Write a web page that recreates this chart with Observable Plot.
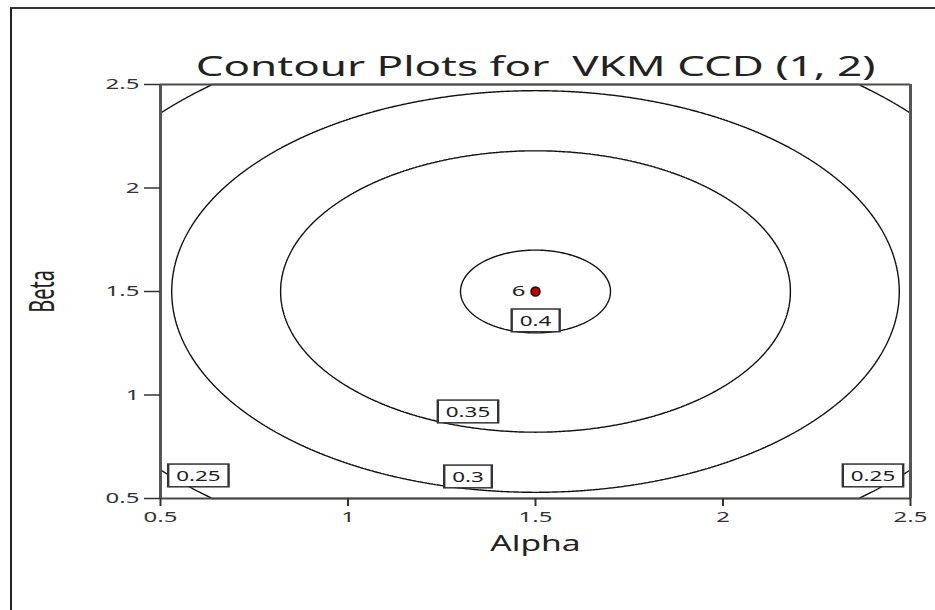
<!DOCTYPE html>
<html>
<head>
<meta charset="utf-8">
<script src="https://cdn.jsdelivr.net/npm/d3@7"></script>
<script src="https://cdn.jsdelivr.net/npm/@observablehq/plot@0.6"></script>
<style>
  html, body { margin: 0; padding: 0; background: #fff; }
  #wrap { position: relative; width: 935px; height: 610px; overflow: hidden; }
  #border { position: absolute; left: 10px; top: 7px; width: 940px; height: 620px;
            border-left: 2px solid #222; border-top: 2px solid #333; }
  #chart { position: absolute; left: 0; top: 0; }
</style>
</head>
<body>
<div id="wrap"><div id="border"></div><div id="chart"></div></div>
<script>
// ---- data ----
const title = "Contour Plots for  VKM CCD (1, 2)";
const xLabel = "Alpha";
const yLabel = "Beta";
const xTicks = [0.5, 1, 1.5, 2, 2.5];
const xTickLabels = ["0.5", "1", "1.5", "2", "2.5"];
const yTicks = [0.5, 1, 1.5, 2, 2.5];
const yTickLabels = ["0.5", "1", "1.5", "2", "2.5"];
const centerX = 1.5;
const centerY = 1.5;
// contour levels and their (read) radii around the centre, in data units
const contourLevels = [0.4, 0.35, 0.3, 0.25];
const contourRadii  = [0.2, 0.68, 0.97, 1.32];
// boxed contour labels
const labelText = ["0.4", "0.35", "0.3", "0.25", "0.25"];
const labelX    = [1.5, 1.32, 1.32, 0.601, 2.40];
const labelY    = [1.355, 0.915, 0.601, 0.606, 0.606];
// design point
const pointX = [1.5];
const pointY = [1.5];
const pointLabel = ["6"];

const labels = labelText.map((t, i) => ({t, x: labelX[i], y: labelY[i]}));
const points = pointX.map((x, i) => ({x, y: pointY[i], t: pointLabel[i]}));

const radiusToLevel = d3.scaleLinear().domain(contourRadii).range(contourLevels);
const font = "'Noto Sans', 'Open Sans', sans-serif";
const SX = 1.6; // the reference's text is drawn wide

const LABEL_FILL = "#202020";
const YLABEL_FILL = "#212121";

const chart = Plot.plot({
  width: 935,
  height: 610,
  marginLeft: 160,
  marginRight: 25,
  marginTop: 84,
  marginBottom: 112,
  style: {fontFamily: font, fontSize: "14px", color: "#333", background: "transparent"},
  x: {domain: [0.5, 2.5]},
  y: {domain: [0.5, 2.5]},
  marks: [
    Plot.contour({
      x1: 0.5, x2: 2.5, y1: 0.5, y2: 2.5,
      value: (x, y) => radiusToLevel(Math.hypot(x - centerX, y - centerY)),
      thresholds: contourLevels,
      fill: "none",
      stroke: "#111",
      strokeWidth: 1.4,
      pixelSize: 1
    }),
    Plot.ruleY([0.5, 2.5], {stroke: "#4a4a40", strokeWidth: 2}),
    Plot.ruleX([0.5, 2.5], {stroke: "#555", strokeWidth: 3}),
    Plot.axisX({ticks: xTicks, tickFormat: (d) => xTickLabels[xTicks.indexOf(d)], tickSize: 8, tickPadding: 5,
                fontSize: 15, label: null, stroke: "#333", strokeWidth: 2, fill: "#333"}),
    Plot.axisY({ticks: yTicks, tickFormat: (d) => yTickLabels[yTicks.indexOf(d)], tickSize: 16, tickPadding: 5,
                fontSize: 15, label: null, stroke: "#333", strokeWidth: 1.5, fill: "#333"}),
    Plot.text(labels, {x: "x", y: "y", text: "t", fontSize: 14, fill: LABEL_FILL}),
    Plot.dot(points, {x: "x", y: "y", r: 4.5, fill: "#c00000", stroke: "#111", strokeWidth: 1.5}),
    Plot.text(points, {x: "x", y: "y", text: "t", dx: -17, fontSize: 15, fill: "#222"}),
    Plot.text([title], {frameAnchor: "top", x: () => 1.5, text: (d) => d, dy: -9, fontSize: 27.5, fill: "#222",
                        lineAnchor: "bottom"}),
    Plot.text([xLabel], {frameAnchor: "bottom", text: (d) => d, dy: 52, fontSize: 21, fill: "#222"}),
    Plot.text([yLabel], {frameAnchor: "left", textAnchor: "middle", text: (d) => d, dx: -117, rotate: -90,
                         fontSize: 20, fill: YLABEL_FILL})
  ]
});
document.getElementById("chart").appendChild(chart);
const svg = d3.select(chart);
svg.selectAll("text").style("white-space", "pre");
// make sure axis font sizes apply
svg.selectAll('g[aria-label="x-axis tick label"], g[aria-label="y-axis tick label"]').attr("font-size", 15).style("font-size", "15px");

// stretch text horizontally about its own anchor point
function stretch(node, sx, sy) {
  const x = +node.getAttribute("x") || 0, y = +node.getAttribute("y") || 0;
  const t = node.getAttribute("transform") || "";
  node.setAttribute("transform", `${t} translate(${x},${y}) scale(${sx},${sy}) translate(${-x},${-y})`);
}
svg.selectAll("text").each(function () {
  const g = this.parentNode;
  if (g.getAttribute("fill") === YLABEL_FILL) stretch(this, 1, 1.7);
  else stretch(this, SX, 1);
});

// draw boxes behind contour labels
svg.selectAll(`g[fill="${LABEL_FILL}"] text`).each(function () {
  const b = this.getBBox();
  const padX = 5, padY = 2;
  d3.select(this.parentNode).insert("rect", () => this)
    .attr("transform", this.getAttribute("transform"))
    .attr("x", b.x - padX).attr("y", b.y - padY)
    .attr("width", b.width + 2 * padX).attr("height", b.height + 2 * padY)
    .attr("fill", "white").attr("stroke", "#333").attr("stroke-width", 1.5);
});
</script>
</body>
</html>
